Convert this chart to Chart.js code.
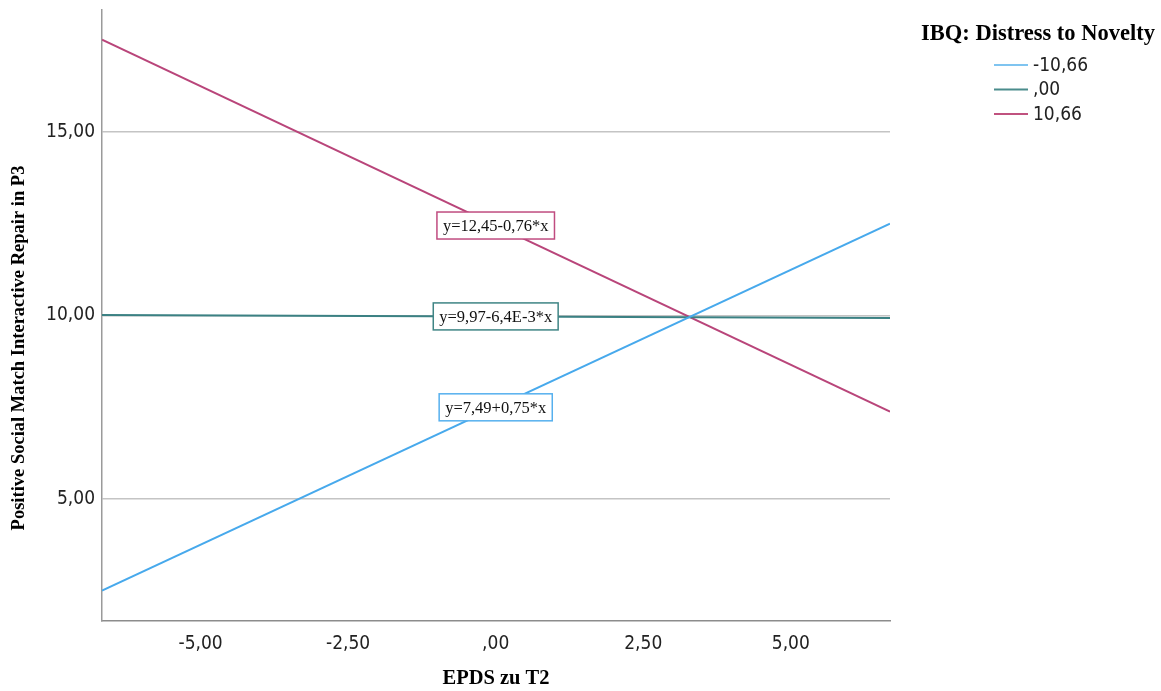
<!DOCTYPE html>
<html>
<head>
<meta charset="utf-8">
<script src="https://cdn.jsdelivr.net/npm/chart.js@4.4.1/dist/chart.umd.min.js"></script>
<style>
  html, body { margin: 0; padding: 0; background: #fff; }
  #wrap { width: 1161px; height: 691px; }
</style>
</head>
<body>
<div id="wrap"><canvas id="chart"></canvas></div>
<script>
// ------------------------------------------------------------
// values
// ------------------------------------------------------------
const xEnds = [-6.67, 6.68];
const seriesLabels = ['-10,66', ',00', '10,66'];
const lowValues = [2.49, 12.50];
const midValues = [10.01, 9.93];
const highValues = [17.52, 7.37];
const fitLabels = ['y=7,49+0,75*x', 'y=9,97-6,4E-3*x', 'y=12,45-0,76*x'];
const fitX = [0, 0, 0];
const fitY = [7.49, 9.97, 12.45];
const xTicks = [-5, -2.5, 0, 2.5, 5];
const yTicks = [5, 10, 15];
const yRange = [1.66, 18.33];

const lineColors = ['#47A9EC', '#3B8183', '#B9457A'];
const legendColors = ['#7FC4F0', '#4A8C8C', '#C0527F'];
const boxColors = ['#56B0EE', '#3F8585', '#C04C80'];

const sansNarrow = "'Liberation Sans Narrow', 'DejaVu Sans Condensed', 'Liberation Sans', sans-serif";
const serif = "'Liberation Serif', 'DejaVu Serif', serif";

// SPSS style numbers: 2 decimals, comma, no leading zero
function spss(v) {
  let s = Math.abs(v).toFixed(2).replace('.', ',');
  if (s.startsWith('0,')) s = s.slice(1);
  return (v < 0 ? '-' : '') + s;
}

const allValues = [lowValues, midValues, highValues];

// equation boxes, anchored through the scales
const fitLabelPlugin = {
  id: 'fitLabels',
  afterDatasetsDraw(chart) {
    const { ctx, scales: { x, y } } = chart;
    ctx.save();
    ctx.font = '16.5px ' + serif;
    ctx.textAlign = 'center';
    ctx.textBaseline = 'middle';
    fitLabels.forEach((txt, i) => {
      const px = x.getPixelForValue(fitX[i]);
      const py = y.getPixelForValue(fitY[i]);
      const w = ctx.measureText(txt).width + 12;
      const h = 27;
      ctx.fillStyle = '#fff';
      ctx.fillRect(px - w / 2, py - h / 2, w, h);
      ctx.strokeStyle = boxColors[i];
      ctx.lineWidth = 1.5;
      ctx.strokeRect(px - w / 2, py - h / 2, w, h);
      ctx.fillStyle = '#111';
      ctx.fillText(txt, px, py + 1);
    });
    ctx.restore();
  },
};

// legend block on the right side
const sideLegendPlugin = {
  id: 'sideLegend',
  afterDraw(chart) {
    const { ctx } = chart;
    ctx.save();
    ctx.fillStyle = '#000';
    ctx.font = 'bold 22.5px ' + serif;
    ctx.textAlign = 'center';
    ctx.textBaseline = 'middle';
    ctx.fillText('IBQ: Distress to Novelty', 1038, 34);
    ctx.font = '19px ' + sansNarrow;
    ctx.textAlign = 'left';
    seriesLabels.forEach((lab, i) => {
      const yy = 65 + i * 24.5;
      ctx.strokeStyle = legendColors[i];
      ctx.lineWidth = 2;
      ctx.beginPath();
      ctx.moveTo(994, yy);
      ctx.lineTo(1028, yy);
      ctx.stroke();
      ctx.fillStyle = '#222';
      ctx.fillText(lab, 1033, yy + 1);
    });
    ctx.restore();
  },
};

// y title sits lower than the plot centre in the original
const yTitlePlugin = {
  id: 'yTitle',
  afterDraw(chart) {
    const { ctx } = chart;
    ctx.save();
    ctx.translate(19, 348);
    ctx.rotate(-Math.PI / 2);
    ctx.font = 'bold 18.5px ' + serif;
    ctx.fillStyle = '#000';
    ctx.textAlign = 'center';
    ctx.textBaseline = 'middle';
    ctx.fillText('Positive Social Match Interactive Repair in P3', 0, 0);
    ctx.restore();
  },
};

const ctx = document.getElementById('chart');
new Chart(ctx, {
  type: 'line',
  data: {
    datasets: seriesLabels.map((lab, i) => ({
      label: lab,
      data: xEnds.map((xv, j) => ({ x: xv, y: allValues[i][j] })),
      borderColor: lineColors[i],
      backgroundColor: lineColors[i],
      borderWidth: 2,
      pointRadius: 0,
      fill: false,
      tension: 0,
    })),
  },
  options: {
    responsive: true,
    maintainAspectRatio: false,
    animation: false,
    layout: { padding: { top: 10, right: 271, left: 0, bottom: 0 } },
    plugins: {
      legend: { display: false },
      tooltip: { enabled: false },
    },
    scales: {
      x: {
        type: 'linear',
        min: xEnds[0],
        max: xEnds[1],
        afterBuildTicks: (s) => { s.ticks = xTicks.map((value) => ({ value })); },
        afterFit: (s) => { s.height = 70; s.paddingLeft = 0; s.paddingRight = 0; },
        grid: { display: false, drawTicks: false },
        border: { display: true, color: '#8c8c8c', width: 1.5 },
        ticks: {
          padding: 12,
          color: '#222',
          autoSkip: false,
          maxRotation: 0,
          font: { family: sansNarrow, size: 19 },
          callback: (v) => spss(v),
        },
        title: {
          display: true,
          text: 'EPDS zu T2',
          color: '#000',
          font: { family: serif, size: 20.5, weight: 'bold' },
          padding: { top: 0, bottom: 0 },
        },
      },
      y: {
        min: yRange[0],
        max: yRange[1],
        afterBuildTicks: (s) => { s.ticks = yTicks.map((value) => ({ value })); },
        afterFit: (s) => { s.width = 102; s.paddingTop = 0; s.paddingBottom = 0; },
        grid: { color: '#c4c4c4', lineWidth: 1.5, drawTicks: false },
        border: { display: true, color: '#9a9a9a', width: 1.5 },
        ticks: {
          padding: 7,
          color: '#222',
          font: { family: sansNarrow, size: 19 },
          callback: (v) => spss(v),
        },
      },
    },
  },
  plugins: [fitLabelPlugin, sideLegendPlugin, yTitlePlugin],
});
</script>
</body>
</html>
